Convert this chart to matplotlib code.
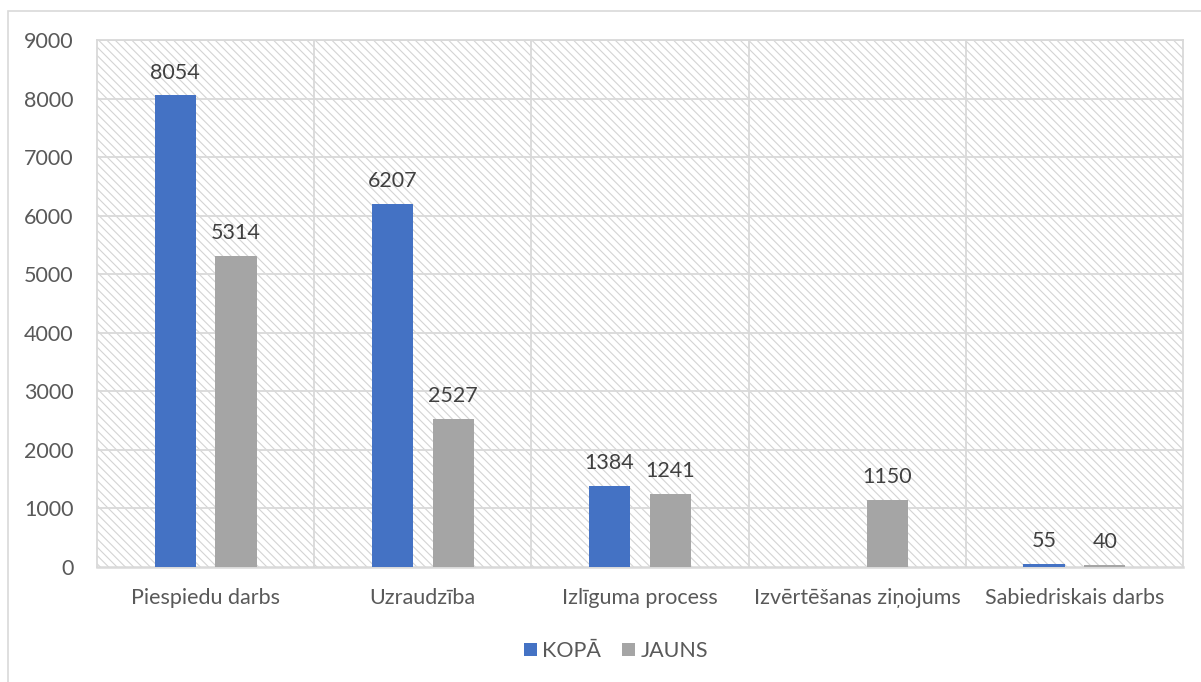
import numpy as np
import matplotlib.pyplot as plt
from matplotlib.patches import Rectangle

plt.rcParams['font.family'] = ['Lato', 'DejaVu Sans']
plt.rcParams['hatch.linewidth'] = 0.8
plt.rcParams['hatch.color'] = '#d4d4d4'

# data
categories = ["Piespiedu darbs", "Uzraudzība", "Izlīguma process",
              "Izvērtēšanas ziņojums", "Sabiedriskais darbs"]
kopa = [8054, 6207, 1384, np.nan, 55]
jauns = [5314, 2527, 1241, 1150, 40]
series_names = ["KOPĀ", "JAUNS"]
colors = ["#4472c4", "#a5a5a5"]
text_color = "#595959"
grid_color = "#d9d9d9"
fs = 15.5

fig = plt.figure(figsize=(12.01, 6.82), dpi=100)
ax = fig.add_axes([97 / 1201, 1 - 567 / 682, (1183 - 97) / 1201, (567 - 40) / 682])

# outer chart border (left and top visible)
fig.add_artist(Rectangle((8 / 1201, -0.1), 1.2, 1 - 11 / 682 + 0.1,
                         transform=fig.transFigure, fill=False,
                         edgecolor=grid_color, linewidth=1.2))

# hatched plot area
ax.add_patch(Rectangle((0, 0), 1, 1, transform=ax.transAxes, facecolor='white',
                       hatch='\\\\\\\\', edgecolor='#d4d4d4', linewidth=0, zorder=0))

x = np.arange(len(categories))
w = 0.19
off = 0.14
b1 = ax.bar(x - off, kopa, w, color=colors[0], label=series_names[0], zorder=3)
b2 = ax.bar(x + off, jauns, w, color=colors[1], label=series_names[1], zorder=3)

for bars, vals in [(b1, kopa), (b2, jauns)]:
    for rect, v in zip(bars, vals):
        if np.isnan(v):
            continue
        ax.text(rect.get_x() + rect.get_width() / 2, v + 220, f"{v:.0f}",
                ha='center', va='bottom', fontsize=fs, color='#404040', zorder=4)

ax.set_xlim(-0.5, len(categories) - 0.5)
ax.set_ylim(0, 9000)
ax.set_yticks(np.arange(0, 9001, 1000))
ax.set_xticks(x)
ax.set_xticklabels(categories)
ax.tick_params(axis='both', length=0, labelsize=fs, colors=text_color)
ax.tick_params(axis='y', pad=17)
ax.tick_params(axis='x', pad=15)

# gridlines
for yv in np.arange(1000, 9001, 1000):
    ax.axhline(yv, color=grid_color, linewidth=1.3, zorder=1)
for xv in np.arange(0.5, len(categories) - 0.5, 1):
    ax.axvline(xv, color=grid_color, linewidth=1.3, zorder=1)
for s in ax.spines.values():
    s.set_color(grid_color)
    s.set_linewidth(1.3)
ax.spines['bottom'].set_linewidth(1.8)

leg = fig.legend(handles=[b1, b2], labels=series_names, loc='center',
                 bbox_to_anchor=(616 / 1201, 1 - 651 / 682), ncol=2, frameon=False,
                 fontsize=fs, handlelength=0.6, handleheight=0.6,
                 handletextpad=0.25, columnspacing=1.0)
for t in leg.get_texts():
    t.set_color(text_color)

fig.savefig("out.png", dpi=100)
